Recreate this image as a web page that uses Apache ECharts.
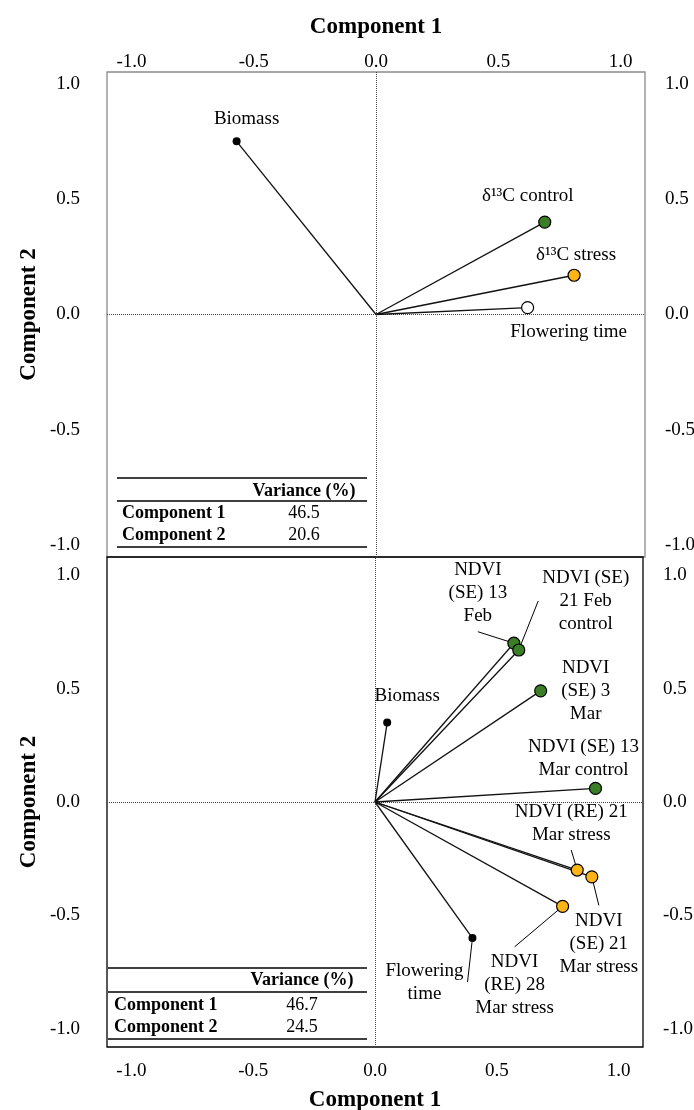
<!DOCTYPE html>
<html>
<head>
<meta charset="utf-8">
<title>PCA loadings</title>
<script src="https://cdn.jsdelivr.net/npm/echarts@6/dist/echarts.min.js"></script>
<style>
  html, body { margin: 0; padding: 0; background: #fff; }
  #chart { width: 694px; height: 1110px; }
</style>
</head>
<body>
<div id="chart"></div>
<script>
// axis ticks
const tickValues = [-1, -0.5, 0, 0.5, 1]

// top panel loadings
const topNames = ['Biomass', 'δ¹³C control', 'δ¹³C stress', 'Flowering time']
const topComp1 = [-0.57, 0.69, 0.81, 0.62]
const topComp2 = [0.75, 0.40, 0.17, 0.03]
const topGroups = ['trait', 'control', 'stress', 'open']
const topVariance = [46.5, 20.6]

// bottom panel loadings
const bottomNames = [
    'NDVI\n(SE) 13\nFeb',
    'NDVI (SE)\n21 Feb\ncontrol',
    'NDVI\n(SE) 3\nMar',
    'Biomass',
    'NDVI (SE) 13\nMar control',
    'NDVI (RE) 21\nMar stress',
    'NDVI\n(SE) 21\nMar stress',
    'NDVI\n(RE) 28\nMar stress',
    'Flowering\ntime',
]
const bottomComp1 = [0.57, 0.59, 0.68, 0.05, 0.905, 0.83, 0.89, 0.77, 0.40]
const bottomComp2 = [0.70, 0.67, 0.49, 0.35, 0.06, -0.30, -0.33, -0.46, -0.60]
const bottomGroups = ['control', 'control', 'control', 'trait', 'control', 'stress', 'stress', 'stress', 'trait']
const bottomVariance = [46.7, 24.5]

const tableRows = ['Component 1', 'Component 2']

// label placement (px from the point) and leader lines
const topLabelOffsets = [[10, -22], [-17, -26], [2, -20], [41, 24]]
const bottomLabelOffsets = [[-36, -50], [67, -49], [45, 0], [20, -27], [-12, -30], [-6, -47], [7, 67], [-48, 79], [-48, 44]]
const bottomLeaders = [true, true, false, false, false, true, true, true, true]

const serif = '"Liberation Serif", "Times New Roman", serif'

const pointStyle = {
    trait: { size: 8, color: '#000', border: 0 },
    control: { size: 12, color: '#3a7f25', border: 1.2 },
    stress: { size: 12, color: '#fdb515', border: 1.2 },
    open: { size: 12, color: '#fff', border: 1.2 },
}

/* one panel: vectors + end points */
function panelSeries(idx, names, c1, c2, groups, offsets, leaders) {
    const vectors = {
        type: 'lines',
        coordinateSystem: 'cartesian2d',
        xAxisIndex: idx,
        yAxisIndex: idx * 2,
        z: 3,
        silent: true,
        lineStyle: { color: '#111', width: 1.3, opacity: 1 },
        data: names.map((n, i) => ({ coords: [[0, 0], [c1[i], c2[i]]] })),
    }
    const points = {
        type: 'scatter',
        xAxisIndex: idx,
        yAxisIndex: idx * 2,
        z: 4,
        silent: true,
        emphasis: { disabled: true },
        data: names.map((n, i) => {
            const s = pointStyle[groups[i]]
            return {
                name: n,
                value: [c1[i], c2[i]],
                symbolSize: s.size,
                itemStyle: { color: s.color, borderColor: '#000', borderWidth: s.border, opacity: 1 },
                label: { offset: offsets[i] },
                labelLine: { show: !!(leaders && leaders[i]) },
            }
        }),
        label: {
            show: true,
            position: 'inside',
            formatter: '{b}',
            color: '#000',
            opacity: 1,
            fontFamily: serif,
            fontSize: 19,
            lineHeight: 23,
            align: 'center',
            verticalAlign: 'middle',
            padding: 4,
            textBorderWidth: 0,
        },
        labelLine: { lineStyle: { color: '#000', width: 1, opacity: 1 } },
        markLine: {
            silent: true,
            symbol: 'none',
            z: 1,
            animation: false,
            label: { show: false },
            lineStyle: { type: 'dotted', color: '#444', width: 1, opacity: 1 },
            data: [{ xAxis: 0 }, { yAxis: 0 }],
        },
    }
    return [vectors, points]
}

const tickFont = { fontFamily: serif, fontSize: 19, color: '#000' }
const titleFont = { fontFamily: serif, fontSize: 23, fontWeight: 'bold', color: '#000' }

function xAxisFor(gridIndex, position, nameGap, margin) {
    return {
        type: 'value',
        gridIndex,
        position,
        min: -1.1,
        max: 1.1,
        name: 'Component 1',
        nameLocation: 'middle',
        nameGap,
        nameMoveOverlap: false,
        nameTextStyle: titleFont,
        axisLine: { show: false },
        axisTick: { show: false },
        splitLine: { show: false },
        axisLabel: { ...tickFont, margin, customValues: tickValues, formatter: (v) => v.toFixed(1) },
    }
}

function yAxisFor(gridIndex, position, range, withName) {
    return {
        type: 'value',
        gridIndex,
        position,
        min: -range,
        max: range,
        name: withName ? 'Component 2' : '',
        nameLocation: 'middle',
        nameGap: 66,
        nameMoveOverlap: false,
        nameTextStyle: titleFont,
        axisLine: { show: false },
        axisTick: { show: false },
        splitLine: { show: false },
        axisLabel: {
            ...tickFont,
            margin: position === 'left' ? 27 : 20,
            customValues: tickValues,
            formatter: (v) => v.toFixed(1),
        },
    }
}

/* variance table drawn inside a panel */
function tableGraphic(values, t) {
    const els = []
    t.lines.forEach((y) => {
        els.push({
            type: 'line',
            shape: { x1: t.x1, y1: y, x2: t.x2, y2: y },
            style: { stroke: '#000', lineWidth: 1.5 },
            z: 10,
        })
    })
    els.push({
        type: 'text',
        z: 10,
        style: { text: 'Variance (%)', x: t.valueX, y: t.headerY, font: 'bold 18px ' + serif, fill: '#000', textAlign: 'center', textVerticalAlign: 'middle' },
    })
    tableRows.forEach((r, i) => {
        els.push({
            type: 'text',
            z: 10,
            style: { text: r, x: t.labelX, y: t.rowY[i], font: 'bold 18px ' + serif, fill: '#000', textAlign: 'left', textVerticalAlign: 'middle' },
        })
        els.push({
            type: 'text',
            z: 10,
            style: { text: values[i].toFixed(1), x: t.valueX, y: t.rowY[i], font: '18px ' + serif, fill: '#000', textAlign: 'center', textVerticalAlign: 'middle' },
        })
    })
    return els
}

const chart = echarts.init(document.getElementById('chart'))

chart.setOption({
    animation: false,
    backgroundColor: '#fff',
    grid: [
        { left: 107, top: 72, width: 538, height: 485, show: true, borderColor: '#8a8a8a', borderWidth: 1.3, outerBoundsMode: 'none' },
        { left: 107, top: 557, width: 536, height: 490, show: true, borderColor: '#000', borderWidth: 1.3, outerBoundsMode: 'none' },
    ],
    xAxis: [xAxisFor(0, 'top', 33, 0), xAxisFor(1, 'bottom', 42, 15)],
    yAxis: [
        yAxisFor(0, 'left', 1.05, true),
        yAxisFor(0, 'right', 1.05, false),
        yAxisFor(1, 'left', 1.08, true),
        yAxisFor(1, 'right', 1.08, false),
    ],
    series: [
        ...panelSeries(0, topNames, topComp1, topComp2, topGroups, topLabelOffsets, null),
        ...panelSeries(1, bottomNames, bottomComp1, bottomComp2, bottomGroups, bottomLabelOffsets, bottomLeaders),
    ],
    graphic: [
        ...tableGraphic(topVariance, {
            x1: 117, x2: 367, lines: [478, 501, 547],
            headerY: 491, rowY: [513, 535], labelX: 122, valueX: 304,
        }),
        ...tableGraphic(bottomVariance, {
            x1: 108, x2: 367, lines: [968, 992, 1039],
            headerY: 980, rowY: [1005, 1027], labelX: 114, valueX: 302,
        }),
    ],
})
</script>
</body>
</html>
